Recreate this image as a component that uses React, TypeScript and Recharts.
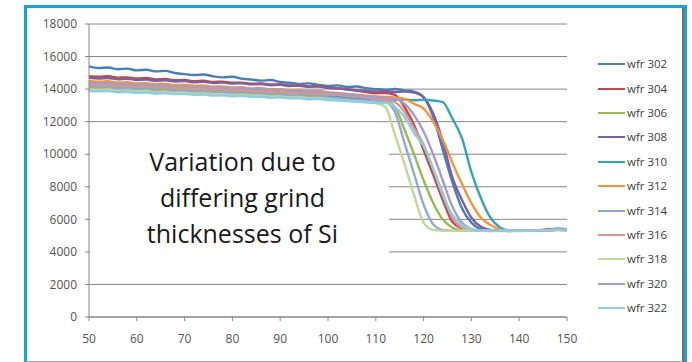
import { LineChart, Line, XAxis, YAxis, CartesianGrid } from "recharts";

// x positions (every 2 units)
const X_VALUES = [
  50, 52, 54, 56, 58, 60, 62, 64, 66, 68, 70, 72, 74, 76, 78, 80, 82, 84, 86, 88,
  90, 92, 94, 96, 98, 100, 102, 104, 106, 108, 110, 112, 114, 116, 118, 120, 122,
  124, 126, 128, 130, 132, 134, 136, 138, 140, 142, 144, 146, 148, 150,
];

const WFR_302 = [
  15400, 15300, 15330, 15220, 15260, 15150, 15190, 15090, 15120, 14990, 14920, 14870, 14900, 14780, 14720, 14760,
  14640, 14590, 14520, 14560, 14440, 14390, 14320, 14350, 14260, 14190, 14230, 14130, 14160, 14060, 14000,
  13960, 14010, 13920, 13850, 13500, 12300, 10300, 8300, 6700, 5800, 5400, 5310, 5290, 5320, 5300, 5330, 5310, 5380, 5420, 5400,
];
const WFR_304 = [
  14800, 14760, 14790, 14700, 14720, 14650, 14680, 14600, 14620, 14540, 14560, 14490, 14510, 14440, 14460, 14390,
  14400, 14330, 14350, 14280, 14300, 14220, 14240, 14170, 14190, 14100, 14050, 13980, 13900, 13820, 13750,
  13760, 13650, 12900, 11800, 10250, 8750, 7200, 5850, 5450, 5320, 5290, 5310, 5300, 5280, 5310, 5300, 5330, 5360, 5400, 5380,
];
const WFR_306 = [
  14200, 14150, 14180, 14100, 14120, 14060, 14080, 14010, 14030, 13970, 13980, 13920, 13940, 13880, 13890, 13830,
  13850, 13790, 13800, 13740, 13760, 13690, 13700, 13640, 13650, 13580, 13560, 13490, 13440, 13380, 13300,
  13250, 12900, 11500, 10000, 8400, 7000, 6000, 5500, 5330, 5300, 5310, 5290, 5300, 5320, 5300, 5310, 5290, 5330, 5350, 5340,
];
const WFR_308 = [
  14700, 14650, 14680, 14600, 14630, 14560, 14580, 14510, 14540, 14470, 14490, 14420, 14450, 14380, 14400, 14340,
  14360, 14290, 14310, 14240, 14260, 14190, 14210, 14140, 14160, 14080, 14050, 13990, 13940, 13900, 13850,
  13880, 13820, 13850, 13780, 13500, 12500, 10800, 8600, 7200, 6100, 5550, 5350, 5300, 5310, 5290, 5320, 5300, 5350, 5410, 5390,
];
const WFR_310 = [
  14000, 13960, 13990, 13920, 13940, 13880, 13900, 13840, 13860, 13800, 13820, 13760, 13780, 13720, 13740, 13680,
  13700, 13640, 13660, 13600, 13620, 13560, 13580, 13520, 13540, 13480, 13500, 13450, 13470, 13420, 13400,
  13380, 13350, 13360, 13320, 13350, 13300, 13200, 12200, 11000, 8900, 7300, 6100, 5500, 5320, 5300, 5310, 5290, 5320, 5360, 5330,
];
const WFR_312 = [
  14500, 14450, 14480, 14400, 14420, 14350, 14370, 14300, 14320, 14250, 14270, 14200, 14220, 14150, 14170, 14100,
  14110, 14040, 14060, 13990, 14000, 13930, 13950, 13870, 13880, 13800, 13760, 13700, 13650, 13600, 13550,
  13520, 13480, 13400, 13100, 12800, 12000, 10900, 9500, 8200, 7000, 6100, 5650, 5380, 5300, 5310, 5290, 5300, 5330, 5370, 5350,
];
const WFR_314 = [
  14100, 14050, 14080, 14000, 14020, 13960, 13980, 13910, 13930, 13870, 13880, 13820, 13840, 13780, 13790, 13730,
  13750, 13690, 13700, 13640, 13650, 13590, 13600, 13540, 13550, 13480, 13440, 13390, 13340, 13300, 13250,
  13200, 12600, 10700, 8800, 6900, 5700, 5350, 5300, 5290, 5310, 5300, 5280, 5300, 5310, 5290, 5300, 5320, 5340, 5360, 5350,
];
const WFR_316 = [
  14300, 14250, 14280, 14200, 14220, 14160, 14180, 14110, 14130, 14070, 14080, 14020, 14040, 13980, 13990, 13930,
  13950, 13890, 13900, 13840, 13860, 13790, 13800, 13740, 13750, 13680, 13660, 13590, 13540, 13480, 13400,
  13350, 13200, 12600, 11600, 10600, 9100, 7600, 6100, 5500, 5330, 5300, 5310, 5290, 5300, 5320, 5300, 5310, 5340, 5380, 5360,
];
const WFR_318 = [
  14000, 13950, 13980, 13900, 13920, 13860, 13880, 13810, 13830, 13770, 13780, 13720, 13740, 13680, 13690, 13630,
  13650, 13590, 13600, 13540, 13550, 13490, 13500, 13440, 13450, 13380, 13340, 13290, 13240, 13200, 13150,
  12900, 11200, 9400, 7500, 5800, 5350, 5300, 5290, 5300, 5310, 5290, 5300, 5280, 5300, 5310, 5290, 5300, 5320, 5340, 5330,
];
const WFR_320 = [
  14400, 14350, 14380, 14300, 14320, 14260, 14280, 14210, 14230, 14170, 14180, 14120, 14140, 14080, 14090, 14030,
  14050, 13990, 14000, 13940, 13960, 13890, 13900, 13840, 13850, 13780, 13740, 13680, 13620, 13560, 13500,
  13450, 13400, 13100, 12400, 11400, 10000, 8400, 6800, 5800, 5400, 5300, 5310, 5290, 5300, 5320, 5300, 5290, 5330, 5360, 5350,
];
const WFR_322 = [
  13900, 13860, 13880, 13810, 13830, 13770, 13790, 13730, 13750, 13690, 13700, 13650, 13660, 13600, 13620, 13560,
  13580, 13520, 13530, 13470, 13490, 13430, 13440, 13380, 13390, 13330, 13300, 13260, 13220, 13190, 13150,
  13150, 12900, 12300, 11300, 10500, 9100, 7500, 6300, 5650, 5380, 5300, 5290, 5310, 5300, 5280, 5300, 5310, 5330, 5350, 5340,
];

const X_TICKS = [50, 60, 70, 80, 90, 100, 110, 120, 130, 140, 150];
const Y_TICKS = [0, 2000, 4000, 6000, 8000, 10000, 12000, 14000, 16000, 18000];
const NOTE_LINES = ["Variation due to", "differing grind", "thicknesses of Si"];

const SERIES = [
  { key: "w302", name: "wfr 302", color: "#4a7ebb", values: WFR_302 },
  { key: "w304", name: "wfr 304", color: "#be4b48", values: WFR_304 },
  { key: "w306", name: "wfr 306", color: "#98b954", values: WFR_306 },
  { key: "w308", name: "wfr 308", color: "#7d60a0", values: WFR_308 },
  { key: "w310", name: "wfr 310", color: "#36a2bd", values: WFR_310 },
  { key: "w312", name: "wfr 312", color: "#f69240", values: WFR_312 },
  { key: "w314", name: "wfr 314", color: "#94a6d6", values: WFR_314 },
  { key: "w316", name: "wfr 316", color: "#da9694", values: WFR_316 },
  { key: "w318", name: "wfr 318", color: "#c3d69b", values: WFR_318 },
  { key: "w320", name: "wfr 320", color: "#a99cc4", values: WFR_320 },
  { key: "w322", name: "wfr 322", color: "#8fcde0", values: WFR_322 },
];

const chartData = X_VALUES.map((x, i) => {
  const row: any = { x };
  SERIES.forEach((s) => {
    row[s.key] = s.values[i];
  });
  return row;
});

const axisGray = "#868686";
const tickStyle = { fontSize: 12, fill: "#555555", fontFamily: "'Open Sans', sans-serif" };

export default function App() {
  return (
    <div style={{ position: "absolute", left: 0, top: 0, width: 692, height: 362, background: "#fff", overflow: "hidden" }}>
      {/* outer frame */}
      <div
        style={{
          position: "absolute",
          left: 24,
          top: 5,
          width: 663,
          height: 360,
          border: "3px solid #17a2e0",
          boxSizing: "border-box",
        }}
      >
        <div style={{ position: "absolute", inset: 0, borderRight: "2px solid #6f6f6f", borderBottom: "1px solid #a0a0a0" }} />
      </div>

      <div style={{ position: "absolute", left: 0, top: 0 }}>
        <LineChart width={692} height={362} data={chartData} margin={{ top: 24, right: 125, left: 39, bottom: 15 }}>
          <CartesianGrid vertical={false} stroke={axisGray} strokeWidth={1} />
          <XAxis
            dataKey="x"
            type="number"
            domain={[50, 150]}
            ticks={X_TICKS}
            height={30}
            stroke={axisGray}
            tickSize={4}
            tickMargin={13}
            tick={tickStyle}
            interval={0}
          />
          <YAxis
            type="number"
            domain={[0, 18000]}
            ticks={Y_TICKS}
            width={50}
            stroke={axisGray}
            tickSize={4}
            tickMargin={8}
            tick={tickStyle}
            interval={0}
          />
          {SERIES.map((s) => (
            <Line
              key={s.key}
              dataKey={s.key}
              name={s.name}
              stroke={s.color}
              strokeWidth={2.4}
              type="monotone"
              dot={false}
              isAnimationActive={false}
            />
          ))}
        </LineChart>
      </div>

      {/* annotation box */}
      <div
        style={{
          position: "absolute",
          left: 90,
          top: 128,
          width: 299,
          height: 147,
          background: "#fff",
          boxSizing: "border-box",
          paddingTop: 15,
          textAlign: "center",
          fontFamily: "'Open Sans', sans-serif",
          fontSize: 25,
          lineHeight: "36px",
          color: "#1a1a1a",
          paddingLeft: 6,
        }}
      >
        {NOTE_LINES.map((t) => (
          <div key={t}>{t}</div>
        ))}
      </div>

      {/* legend */}
      <div style={{ position: "absolute", left: 598, top: 52, fontFamily: "'Open Sans', sans-serif" }}>
        {SERIES.map((s) => (
          <div key={s.key} style={{ display: "flex", alignItems: "center", height: 24.4 }}>
            <span style={{ display: "inline-block", width: 27, height: 2, background: s.color, marginRight: 2 }} />
            <span style={{ fontSize: 11.5, color: "#404040", lineHeight: "14px" }}>{s.name}</span>
          </div>
        ))}
      </div>
    </div>
  );
}
